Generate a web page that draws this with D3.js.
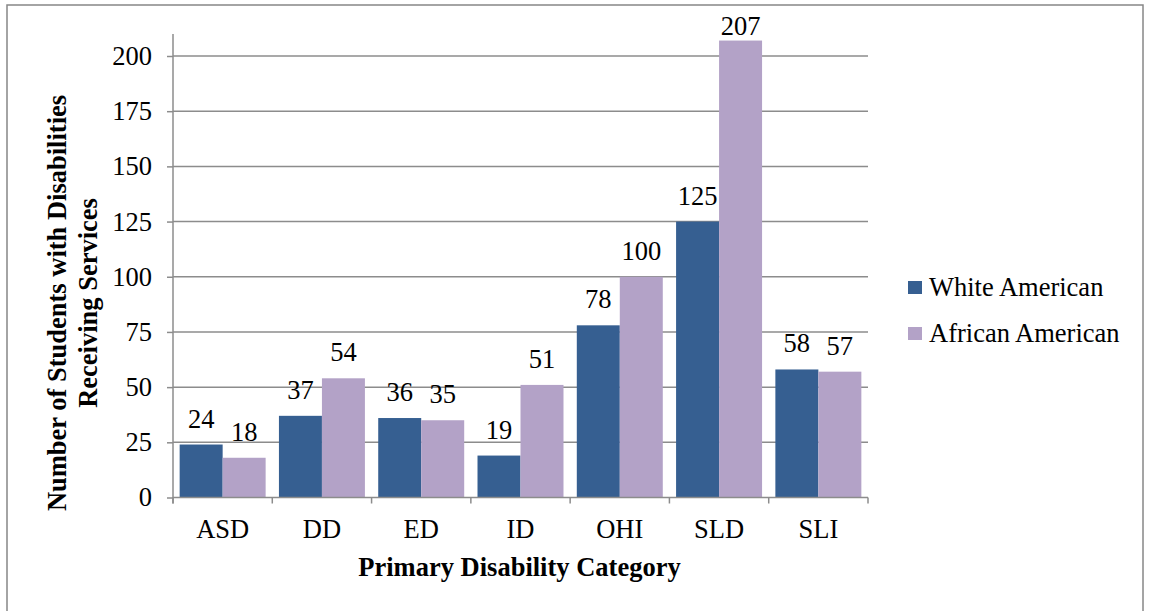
<!DOCTYPE html>
<html>
<head>
<meta charset="utf-8">
<script src="https://cdn.jsdelivr.net/npm/d3@7"></script>
<style>
  html, body { margin: 0; padding: 0; background: #fff; }
  svg { display: block; }
</style>
</head>
<body>
<svg id="chart" width="1149" height="611" style="font-family: 'Liberation Serif', 'Times New Roman', serif;"></svg>
<script>
const categories = ["ASD", "DD", "ED", "ID", "OHI", "SLD", "SLI"];
const seriesNames = ["White American", "African American"];
const whiteAmerican = [24, 37, 36, 19, 78, 125, 58];
const africanAmerican = [18, 54, 35, 51, 100, 207, 57];
const yTicks = [0, 25, 50, 75, 100, 125, 150, 175, 200];
const colors = ["#365F91", "#B3A2C7"];

(function () {
const svg = d3.select("#chart");
const FONT = "'Liberation Serif', 'Times New Roman', serif";
const pLeft = 173, pRight = 868, pTop = 56, pBottom = 497.5;
const fs = 26.5;

// Outer frame
svg.append("rect").attr("x", 7).attr("y", 5).attr("width", 1136).attr("height", 640)
  .attr("fill", "none").attr("stroke", "#878787").attr("stroke-width", 1.5);

const x = d3.scaleBand().domain(categories).range([pLeft, pRight])
  .paddingInner(0.134).paddingOuter(0.067);
const x1 = d3.scaleBand().domain(seriesNames).range([0, x.bandwidth()]);
const y = d3.scaleLinear().domain([0, 200]).range([pBottom, pTop]);

// Gridlines
svg.append("g").selectAll("line").data(yTicks.filter(d => d > 0)).join("line")
  .attr("x1", pLeft).attr("x2", pRight)
  .attr("y1", d => y(d)).attr("y2", d => y(d))
  .attr("stroke", "#8c8c8c").attr("stroke-width", 1.5);

// Y axis
const yAxis = d3.axisLeft(y).tickValues(yTicks).tickSize(6).tickPadding(15).tickFormat(d3.format("d"));
const yg = svg.append("g").attr("transform", `translate(${pLeft},0)`).call(yAxis)
  .attr("font-family", null).attr("font-size", null);
yg.select(".domain").remove();
yg.selectAll(".tick line").attr("stroke", "#8c8c8c").attr("stroke-width", 1.5);
yg.selectAll(".tick text").style("font-family", FONT).style("font-size", fs + "px").attr("fill", "#000");
svg.append("line").attr("x1", pLeft).attr("x2", pLeft).attr("y1", 34).attr("y2", pBottom + 6)
  .attr("stroke", "#8c8c8c").attr("stroke-width", 1.5);

// Bars
const series = [whiteAmerican, africanAmerican];
const groups = svg.append("g").selectAll("g").data(categories).join("g")
  .attr("transform", d => `translate(${x(d)},0)`);
groups.selectAll("rect").data((d, i) => seriesNames.map((s, j) => ({s, v: series[j][i], j})))
  .join("rect")
  .attr("x", d => x1(d.s)).attr("width", x1.bandwidth())
  .attr("y", d => y(d.v)).attr("height", d => y(0) - y(d.v))
  .attr("fill", d => colors[d.j]);
groups.selectAll("text.lbl").data((d, i) => seriesNames.map((s, j) => ({s, v: series[j][i], j})))
  .join("text").attr("class", "lbl")
  .attr("x", d => x1(d.s) + x1.bandwidth() / 2).attr("y", d => Math.max(y(d.v) - 17, 35))
  .attr("text-anchor", "middle").style("font-family", FONT).style("font-size", fs + "px")
  .attr("fill", "#000").text(d => d.v);

// X axis
svg.append("line").attr("x1", pLeft).attr("x2", pRight).attr("y1", pBottom).attr("y2", pBottom)
  .attr("stroke", "#8c8c8c").attr("stroke-width", 1.5);
const bounds = categories.map(c => x(c) - x.step() * x.paddingInner() / 2).concat([pRight]);
bounds[0] = pLeft;
svg.append("g").selectAll("line").data(bounds).join("line")
  .attr("x1", d => d).attr("x2", d => d).attr("y1", pBottom).attr("y2", pBottom + 6)
  .attr("stroke", "#8c8c8c").attr("stroke-width", 1.5);
svg.append("g").selectAll("text").data(categories).join("text")
  .attr("x", d => x(d) + x.bandwidth() / 2).attr("y", 538)
  .attr("text-anchor", "middle").style("font-family", FONT).style("font-size", fs + "px").text(d => d);

// Axis titles
svg.append("text").attr("x", (pLeft + pRight) / 2 - 1).attr("y", 576).attr("text-anchor", "middle")
  .style("font-family", FONT).style("font-size", fs + "px").attr("font-weight", "bold")
  .text("Primary Disability Category");
const yt = svg.append("text").attr("transform", "translate(66,303) rotate(-90)")
  .attr("text-anchor", "middle").style("font-family", FONT).style("font-size", fs + "px")
  .attr("font-weight", "bold");
yt.append("tspan").attr("x", 0).attr("y", 0).text("Number of Students with Disabilities");
yt.append("tspan").attr("x", 0).attr("y", 31).text("Receiving Services");

// Legend
const lg = svg.append("g").selectAll("g").data(seriesNames).join("g")
  .attr("transform", (d, i) => `translate(908,${281 + i * 46})`);
lg.append("rect").attr("width", 14).attr("height", 13).attr("fill", (d, i) => colors[i]);
lg.append("text").attr("x", 21).attr("y", 15).style("font-family", FONT).style("font-size", fs + "px")
  .text(d => d);
})();
</script>
</body>
</html>
